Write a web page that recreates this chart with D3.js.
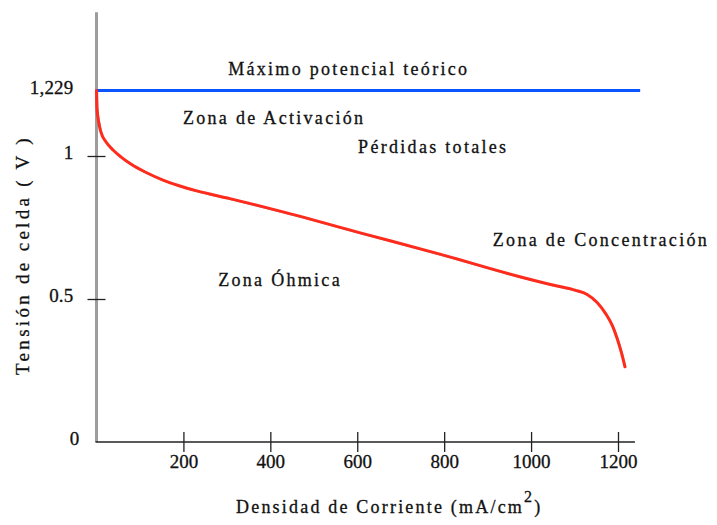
<!DOCTYPE html>
<html>
<head>
<meta charset="utf-8">
<script src="https://cdn.jsdelivr.net/npm/d3@7"></script>
<style>
  html, body { margin: 0; padding: 0; background: #ffffff; }
  svg { display: block; }
  text { font-family: "Liberation Serif", "Times New Roman", serif; fill: #111; stroke: #111; stroke-width: 0.3px; }
</style>
</head>
<body>
<svg id="chart" width="717" height="525"></svg>
<script>
// Polarization curve of a fuel cell: current density vs cell voltage
const current = [0, 1, 5, 10, 22, 38, 56, 79, 112, 153, 192, 231, 307, 420, 618, 790, 974, 1050, 1101, 1129, 1152, 1172, 1187, 1198, 1208, 1216];
const voltage = [1.229, 1.168, 1.119, 1.084, 1.049, 1.021, 0.997, 0.972, 0.944, 0.916, 0.895, 0.878, 0.851, 0.808, 0.727, 0.657, 0.578, 0.549, 0.531, 0.516, 0.488, 0.448, 0.407, 0.362, 0.312, 0.263];

// Theoretical maximum potential (V)
const maxPotential = 1.229;

// Axis ticks
const xTickValues = [200, 400, 600, 800, 1000, 1200];
const yTickValues = [0, 0.5, 1, 1.229];
const yTickText = ["0", "0.5", "1", "1,229"];
const yTickMarks = [0.5, 1];

// Region annotations (anchored in data units)
const noteText = ["Máximo potencial teórico", "Zona de Activación", "Pérdidas totales", "Zona de Concentración", "Zona Óhmica"];
const noteX = [303, 199, 602, 912, 280];
const noteY = [1.283, 1.111, 1.009, 0.684, 0.545];

const svg = d3.select("#chart");

const x = d3.scaleLinear().domain([0, 1200]).range([96.5, 618]);
const y = d3.scaleLinear().domain([0, 1]).range([442, 156]);

const x0 = x(0), y0 = y(0);

// Vertical axis line (grey)
svg.append("line")
  .attr("x1", x0).attr("x2", x0)
  .attr("y1", y(1.503)).attr("y2", y0)
  .attr("stroke", "#9c9c9c").attr("stroke-width", 3);

// Horizontal axis line
svg.append("line")
  .attr("x1", x0 - 1).attr("x2", x(1239))
  .attr("y1", y0).attr("y2", y0)
  .attr("stroke", "#222").attr("stroke-width", 1.5);

// X axis ticks and labels
const gx = svg.append("g")
  .attr("transform", `translate(0,${y0})`)
  .call(d3.axisBottom(x).tickValues(xTickValues).tickFormat(d3.format("d")).tickSizeOuter(0));
gx.select(".domain").remove();
gx.selectAll(".tick line").attr("y1", -10).attr("y2", 10).attr("stroke", "#222").attr("stroke-width", 1.3);
gx.selectAll(".tick text")
  .attr("y", 25.5).attr("dy", 0)
  .style("font-family", "'Liberation Serif', serif")
  .style("font-size", "19px").style("letter-spacing", "0px").style("fill", "#111");

// Y axis ticks and labels
const gy = svg.append("g")
  .attr("transform", `translate(${x0},0)`)
  .call(d3.axisLeft(y).tickValues(yTickValues)
    .tickFormat((d, i) => yTickText[i]).tickSizeOuter(0));
gy.select(".domain").remove();
gy.selectAll(".tick line")
  .attr("x1", -9).attr("x2", 9)
  .attr("stroke", "#222").attr("stroke-width", 1.3)
  .style("display", d => yTickMarks.includes(d) ? null : "none");
gy.selectAll(".tick text")
  .attr("x", d => d === 0 ? -17 : -23).attr("dy", "0.15em")
  .style("font-family", "'Liberation Serif', serif")
  .style("font-size", "19px").style("letter-spacing", "0.2px").style("fill", "#111");

// Theoretical maximum potential line
svg.append("line")
  .attr("x1", x0).attr("x2", x(1251))
  .attr("y1", y(maxPotential)).attr("y2", y(maxPotential))
  .attr("stroke", "#0a55ff").attr("stroke-width", 3);

// Polarization curve
const pts = current.map((c, i) => [c, voltage[i]]);
const line = d3.line().x(d => x(d[0])).y(d => y(d[1])).curve(d3.curveMonotoneX);

svg.append("path")
  .datum(pts)
  .attr("d", line)
  .attr("transform", "translate(0.8,0.8)")
  .attr("fill", "none")
  .attr("stroke", "#555")
  .attr("stroke-opacity", 0.55)
  .attr("stroke-width", 1.6);

svg.append("path")
  .datum(pts)
  .attr("d", line)
  .attr("fill", "none")
  .attr("stroke", "#ff2b1c")
  .attr("stroke-width", 3)
  .attr("stroke-linejoin", "round")
  .attr("stroke-linecap", "round");

// Region annotations
svg.append("g").selectAll("text")
  .data(noteText)
  .join("text")
  .attr("x", (d, i) => x(noteX[i]))
  .attr("y", (d, i) => y(noteY[i]))
  .style("font-size", "18px")
  .style("letter-spacing", "2.3px")
  .text(d => d);

// X axis title with superscript
const xt = svg.append("text")
  .attr("x", 236).attr("y", 513)
  .style("font-size", "18px")
  .style("letter-spacing", "2.2px");
xt.append("tspan").text("Densidad de Corriente (mA/cm");
xt.append("tspan").attr("dy", -11).style("font-size", "16px").text("2");
xt.append("tspan").attr("dy", 11).text(")");

// Y axis title
svg.append("text")
  .attr("transform", "translate(29,255) rotate(-90)")
  .attr("text-anchor", "middle")
  .style("font-size", "19px")
  .style("letter-spacing", "3.3px")
  .text("Tensión de celda ( V )");
</script>
</body>
</html>
